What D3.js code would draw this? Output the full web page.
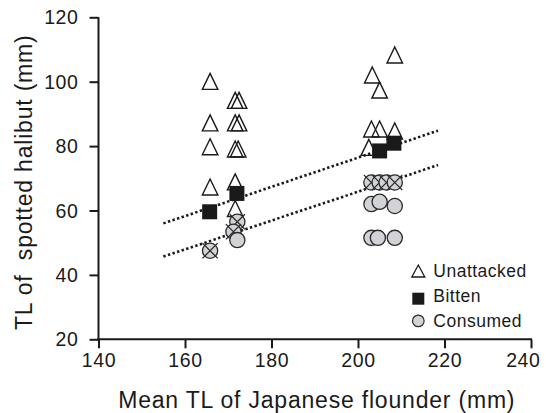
<!DOCTYPE html>
<html>
<head>
<meta charset="utf-8">
<script src="https://cdn.jsdelivr.net/npm/d3@7"></script>
<style>
  html, body { margin: 0; padding: 0; background: #fff; }
  svg text { font-family: "Liberation Sans", Arial, Helvetica, sans-serif; fill: #1a1a1a; }
</style>
</head>
<body>
<svg id="chart" width="546" height="413"></svg>
<script>
// Axis ticks
const xTicks = [140, 160, 180, 200, 220, 240];
const yTicks = [20, 40, 60, 80, 100, 120];

// Unattacked spotted halibut (triangles): flounder TL vs halibut TL, mm
const unattackedX = [165.8, 165.8, 165.8, 165.8, 171.6, 172.5, 171.6, 172.5, 171.6, 172.3, 171.6, 171.6, 208.5, 203.3, 205.0, 203.1, 205.0, 208.5, 202.5];
const unattackedY = [100.1, 87.2, 79.8, 67.3, 94.2, 94.2, 87.2, 87.2, 79.1, 79.1, 68.9, 60.6, 108.3, 102.1, 97.4, 85.3, 85.3, 84.7, 79.6];

// Bitten (filled squares)
const bittenX = [165.7, 172.0, 205.0, 208.3];
const bittenY = [59.6, 65.3, 78.5, 80.9];

// Consumed (grey circles); crossed = 1 marks the circles drawn with an X
const consumedX = [165.8, 172.1, 171.2, 172.1, 203.1, 205.0, 206.6, 208.5, 203.1, 205.0, 208.5, 203.1, 204.6, 208.5];
const consumedY = [47.5, 56.5, 53.4, 50.8, 68.7, 68.7, 68.7, 68.7, 62.0, 62.7, 61.4, 51.5, 51.5, 51.5];
const consumedCrossed = [1, 1, 1, 0, 1, 1, 1, 1, 0, 0, 0, 0, 0, 0];

// Fitted lines (end points)
const fitX = [155, 218.5];
const bittenFitY = [56.0, 84.8];
const consumedFitY = [45.7, 74.1];

const legendLabels = ["Unattacked", "Bitten", "Consumed"];

const svg = d3.select("#chart");
const margin = { left: 98.5, right: 15, top: 17.3, bottom: 73.7 };
const W = 546, H = 413;

const x = d3.scaleLinear().domain([140, 240]).range([margin.left, W - margin.right]);
const y = d3.scaleLinear().domain([20, 120]).range([H - margin.bottom, margin.top]);

const circleFill = "#d2d3d6";
const ink = "#1a1a1a";

// Axes
const xAxis = svg.append("g")
  .attr("transform", `translate(0,${y(20)})`)
  .call(d3.axisBottom(x).tickValues(xTicks).tickSize(9).tickPadding(5).tickSizeOuter(0));
const yAxis = svg.append("g")
  .attr("transform", `translate(${x(140)},0)`)
  .call(d3.axisLeft(y).tickValues(yTicks).tickSize(9).tickPadding(11).tickSizeOuter(0));

[xAxis, yAxis].forEach(g => {
  g.select(".domain").attr("stroke", ink).attr("stroke-width", 2);
  g.selectAll(".tick line").attr("stroke", ink).attr("stroke-width", 2);
  g.selectAll(".tick text").attr("font-size", 19.5).attr("fill", ink)
    .style("font-family", "'Liberation Sans', Arial, sans-serif")
    .attr("letter-spacing", "0.6px");
});
yAxis.selectAll(".tick text").attr("dy", "0.34em");
// Last x label is pulled in so it stays inside the frame
xAxis.selectAll(".tick text").filter(d => d === 240)
  .attr("text-anchor", "end").attr("x", 540 - x(240));
// The y domain line starts at the 120 tick exactly
yAxis.select(".domain").attr("d", `M0,${y(120)}V${y(20) + 1}`);
xAxis.select(".domain").attr("d", `M${x(140) - 1},0H${x(240) + 1}`);

// Axis titles
svg.append("text")
  .attr("x", (x(140) + x(240)) / 2 + 2)
  .attr("y", 408)
  .attr("text-anchor", "middle")
  .attr("font-size", 23)
  .attr("letter-spacing", "0.8px")
  .text("Mean TL of Japanese flounder (mm)");

svg.append("text")
  .attr("transform", `translate(32,${(y(20) + y(120)) / 2 + 4}) rotate(-90)`)
  .attr("text-anchor", "middle")
  .attr("font-size", 23)
  .attr("letter-spacing", "0.8px")
  .style("white-space", "pre")
  .text("TL of  spotted halibut (mm)");

// Dotted regression lines
const line = d3.line().x(d => x(d[0])).y(d => y(d[1]));
[bittenFitY, consumedFitY].forEach(fy => {
  svg.append("path")
    .datum(fitX.map((v, i) => [v, fy[i]]))
    .attr("d", line)
    .attr("fill", "none")
    .attr("stroke", ink)
    .attr("stroke-width", 2.6)
    .attr("stroke-dasharray", "2.4,2.4");
});

// Triangle marker path centred on (0,0)
function tri(w, h) {
  return `M0,${-h / 2}L${w / 2},${h / 2}L${-w / 2},${h / 2}Z`;
}

// Unattacked triangles
svg.append("g").selectAll("path")
  .data(unattackedX.map((v, i) => [v, unattackedY[i]]))
  .join("path")
  .attr("d", tri(15.5, 16))
  .attr("transform", d => `translate(${x(d[0])},${y(d[1])})`)
  .attr("fill", "none")
  .attr("stroke", ink)
  .attr("stroke-width", 1.4)
  .attr("stroke-linejoin", "miter");

// Consumed circles
const cg = svg.append("g");
consumedX.forEach((v, i) => {
  const cx = x(v), cy = y(consumedY[i]);
  cg.append("circle")
    .attr("cx", cx).attr("cy", cy).attr("r", 7.6)
    .attr("fill", circleFill).attr("stroke", "#2a2a2a").attr("stroke-width", 1.3);
  if (consumedCrossed[i]) {
    const a = 7.6;
    cg.append("path")
      .attr("d", `M${cx - a},${cy - a}L${cx + a},${cy + a}M${cx + a},${cy - a}L${cx - a},${cy + a}`)
      .attr("stroke", "#2a2a2a").attr("stroke-width", 1.3);
  }
});

// Bitten squares
svg.append("g").selectAll("rect")
  .data(bittenX.map((v, i) => [v, bittenY[i]]))
  .join("rect")
  .attr("x", d => x(d[0]) - 7.5)
  .attr("y", d => y(d[1]) - 7.5)
  .attr("width", 15).attr("height", 15)
  .attr("fill", ink);

// Legend
const lg = svg.append("g");
const lx = 418.3, ly0 = 271, dy = 24.7;
lg.append("path").attr("d", tri(13, 12))
  .attr("transform", `translate(${lx},${ly0})`)
  .attr("fill", "none").attr("stroke", ink).attr("stroke-width", 1.3);
lg.append("rect").attr("x", lx - 6).attr("y", ly0 + dy - 6 + 3)
  .attr("width", 12).attr("height", 12).attr("fill", ink);
lg.append("circle").attr("cx", lx).attr("cy", ly0 + 2 * dy + 0.5).attr("r", 5.8)
  .attr("fill", circleFill).attr("stroke", "#2a2a2a").attr("stroke-width", 1.2);
legendLabels.forEach((t, i) => {
  lg.append("text")
    .attr("x", 433.3)
    .attr("y", 277.3 + i * 24.7)
    .attr("font-size", 17.5)
    .attr("letter-spacing", "0.5px")
    .text(t);
});
</script>
</body>
</html>
